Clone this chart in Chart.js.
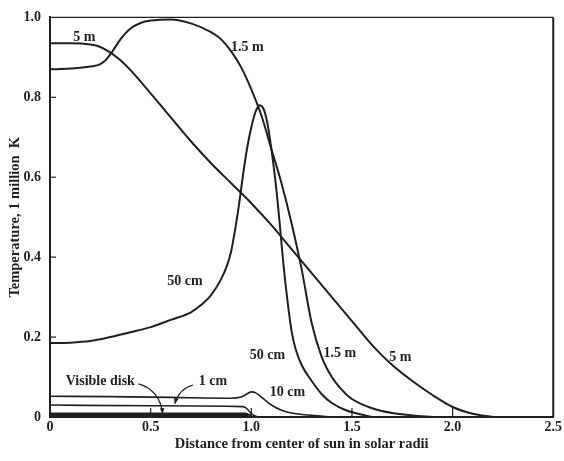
<!DOCTYPE html>
<html>
<head>
<meta charset="utf-8">
<script src="https://cdn.jsdelivr.net/npm/chart.js@4/dist/chart.umd.min.js"></script>
<style>
  html, body { margin: 0; padding: 0; background: #ffffff; }
  #wrap { width: 564px; height: 461px; position: relative; }
</style>
</head>
<body>
<div id="wrap"><canvas id="c" width="564" height="461"></canvas></div>
<script>
// ---- Data ----
const xTicks = [0, 0.5, 1.0, 1.5, 2.0, 2.5];
const yTicks = [0, 0.2, 0.4, 0.6, 0.8, 1.0];

const x5m  = [0, 0.1, 0.2, 0.25, 0.3, 0.35, 0.4, 0.5, 0.6, 0.7, 0.8, 0.9, 1.0, 1.1, 1.2, 1.3, 1.4, 1.5, 1.6, 1.7, 1.8, 1.9, 2.0, 2.1, 2.2];
const y5m  = [0.935, 0.935, 0.932, 0.926, 0.912, 0.893, 0.868, 0.81, 0.75, 0.69, 0.635, 0.585, 0.535, 0.48, 0.42, 0.36, 0.30, 0.24, 0.18, 0.13, 0.09, 0.055, 0.025, 0.008, 0];

const x15m = [0, 0.1, 0.2, 0.25, 0.28, 0.31, 0.35, 0.4, 0.45, 0.5, 0.6, 0.7, 0.8, 0.85, 0.9, 0.95, 1.0, 1.05, 1.1, 1.15, 1.2, 1.25, 1.3, 1.35, 1.4, 1.45, 1.5, 1.6, 1.7, 1.8, 1.9];
const y15m = [0.87, 0.872, 0.877, 0.883, 0.895, 0.915, 0.945, 0.972, 0.986, 0.992, 0.995, 0.985, 0.963, 0.945, 0.915, 0.875, 0.82, 0.755, 0.67, 0.585, 0.485, 0.37, 0.235, 0.15, 0.10, 0.068, 0.045, 0.022, 0.01, 0.004, 0];

const x50cm = [0, 0.1, 0.2, 0.3, 0.4, 0.5, 0.6, 0.7, 0.75, 0.8, 0.85, 0.88, 0.9, 0.92, 0.94, 0.96, 0.98, 1.0, 1.02, 1.04, 1.06, 1.08, 1.1, 1.12, 1.14, 1.16, 1.18, 1.2, 1.22, 1.25, 1.3, 1.35, 1.4, 1.47, 1.6];
const y50cm = [0.185, 0.186, 0.19, 0.2, 0.212, 0.225, 0.243, 0.262, 0.28, 0.305, 0.345, 0.38, 0.415, 0.47, 0.535, 0.61, 0.675, 0.725, 0.762, 0.78, 0.772, 0.735, 0.67, 0.59, 0.49, 0.38, 0.29, 0.215, 0.17, 0.13, 0.09, 0.057, 0.035, 0.017, 0];

const x10cm = [0, 0.3, 0.6, 0.9, 0.95, 0.98, 1.0, 1.02, 1.05, 1.1, 1.15, 1.2, 1.3, 1.4];
const y10cm = [0.052, 0.051, 0.049, 0.047, 0.05, 0.058, 0.063, 0.061, 0.05, 0.03, 0.017, 0.01, 0.004, 0];

const x1cm = [0, 0.5, 0.96, 0.98, 1.0, 1.03];
const y1cm = [0.03, 0.028, 0.026, 0.02, 0.008, 0];

const xDisk = [0, 0.5, 0.97, 1.0];
const yDisk = [0.006, 0.006, 0.006, 0];

// curve labels (text, data x, data y)
const labelText = ["5 m", "1.5 m", "50 cm", "50 cm", "1.5 m", "5 m", "10 cm", "1 cm", "Visible disk"];
const labelX    = [0.17, 0.98, 0.67, 1.08, 1.44, 1.74, 1.18, 0.81, 0.25];
const labelY    = [0.95, 0.925, 0.34, 0.155, 0.158, 0.15, 0.062, 0.09, 0.088];

// pointer arrows: start, control, end (data coords)
const arrowPts = [
  [[0.44, 0.083], [0.545, 0.068], [0.56, 0.008]],
  [[0.71, 0.080], [0.64, 0.07], [0.62, 0.033]]
];

const INK = '#1f1f1f';
const FAMILY = '"Liberation Serif", "DejaVu Serif", serif';
const FONT = 'bold 14px ' + FAMILY;

function pts(xs, ys) { return xs.map((x, i) => ({ x: x, y: ys[i] })); }
function ds(xs, ys, w) {
  return {
    data: pts(xs, ys), borderColor: INK, borderWidth: w, pointRadius: 0,
    fill: false, cubicInterpolationMode: 'monotone'
  };
}

const decorPlugin = {
  id: 'decor',
  afterDraw(chart) {
    const ctx = chart.ctx, a = chart.chartArea;
    const xs = chart.scales.x, ys = chart.scales.y;
    ctx.save();
    ctx.strokeStyle = INK;
    ctx.lineWidth = 1.2;
    ctx.beginPath(); ctx.moveTo(a.left, a.top); ctx.lineTo(a.right, a.top); ctx.stroke();
    ctx.lineWidth = 2;
    ctx.beginPath(); ctx.moveTo(a.right, a.top); ctx.lineTo(a.right, a.bottom); ctx.stroke();
    ctx.lineWidth = 1.2;
    xTicks.forEach(v => {
      if (v <= 0 || v >= 2.5) return;
      const px = xs.getPixelForValue(v);
      ctx.beginPath(); ctx.moveTo(px, a.bottom); ctx.lineTo(px, a.bottom - 9); ctx.stroke();
    });
    yTicks.forEach(v => {
      if (v <= 0 || v >= 1) return;
      const py = ys.getPixelForValue(v);
      ctx.beginPath(); ctx.moveTo(a.left, py); ctx.lineTo(a.left + 6, py); ctx.stroke();
    });
    ctx.fillStyle = INK;
    ctx.font = FONT;
    ctx.textAlign = 'center';
    ctx.textBaseline = 'middle';
    labelText.forEach((t, i) => {
      ctx.fillText(t, xs.getPixelForValue(labelX[i]), ys.getPixelForValue(labelY[i]));
    });
    ctx.lineWidth = 1.2;
    arrowPts.forEach(p => {
      const s = [xs.getPixelForValue(p[0][0]), ys.getPixelForValue(p[0][1])];
      const c = [xs.getPixelForValue(p[1][0]), ys.getPixelForValue(p[1][1])];
      const e = [xs.getPixelForValue(p[2][0]), ys.getPixelForValue(p[2][1])];
      ctx.beginPath(); ctx.moveTo(s[0], s[1]); ctx.quadraticCurveTo(c[0], c[1], e[0], e[1]); ctx.stroke();
      const ang = Math.atan2(e[1] - c[1], e[0] - c[0]);
      ctx.beginPath();
      ctx.moveTo(e[0], e[1]);
      ctx.lineTo(e[0] - 6 * Math.cos(ang - 0.4), e[1] - 6 * Math.sin(ang - 0.4));
      ctx.lineTo(e[0] - 6 * Math.cos(ang + 0.4), e[1] - 6 * Math.sin(ang + 0.4));
      ctx.closePath(); ctx.fill();
    });
    ctx.restore();
  }
};

const bgPlugin = {
  id: 'bg',
  beforeDraw(chart) {
    const ctx = chart.ctx;
    ctx.save(); ctx.fillStyle = '#ffffff'; ctx.fillRect(0, 0, chart.width, chart.height); ctx.restore();
  }
};

new Chart(document.getElementById('c'), {
  type: 'line',
  data: {
    datasets: [
      ds(x5m, y5m, 2),
      ds(x15m, y15m, 2),
      ds(x50cm, y50cm, 2),
      ds(x10cm, y10cm, 1.6),
      ds(x1cm, y1cm, 1.6),
      ds(xDisk, yDisk, 4)
    ]
  },
  options: {
    responsive: false,
    animation: false,
    layout: { padding: { top: 15, right: 9, left: 7, bottom: 8 } },
    plugins: { legend: { display: false }, tooltip: { enabled: false } },
    scales: {
      x: {
        type: 'linear', min: 0, max: 2.5,
        afterBuildTicks(s) { s.ticks = xTicks.map(v => ({ value: v })); },
        afterFit(s) { s.height = 36; },
        grid: { display: false, drawTicks: false },
        border: { display: true, color: INK, width: 2 },
        ticks: {
          color: INK, padding: 2, maxRotation: 0,
          font: { family: FAMILY, size: 14, weight: 'bold' },
          callback: v => (v === 0 ? '0' : v.toFixed(1))
        },
        title: {
          display: true, text: 'Distance from center of sun in solar radii', color: INK,
          font: { family: FAMILY, size: 14.5, weight: 'bold' },
          padding: { top: 0, bottom: 0 }
        }
      },
      y: {
        type: 'linear', min: 0, max: 1.0,
        afterBuildTicks(s) { s.ticks = yTicks.map(v => ({ value: v })); },
        afterFit(s) { s.width = 43; },
        grid: { display: false, drawTicks: false },
        border: { display: true, color: INK, width: 2 },
        ticks: {
          color: INK, padding: 9,
          font: { family: FAMILY, size: 14, weight: 'bold' },
          callback: v => (v === 0 ? '0' : v.toFixed(1))
        },
        title: {
          display: true, text: 'Temperature, 1 million  K', color: INK,
          font: { family: FAMILY, size: 14.5, weight: 'bold' },
          padding: { top: 0, bottom: 0 }
        }
      }
    }
  },
  plugins: [bgPlugin, decorPlugin]
});
</script>
</body>
</html>
